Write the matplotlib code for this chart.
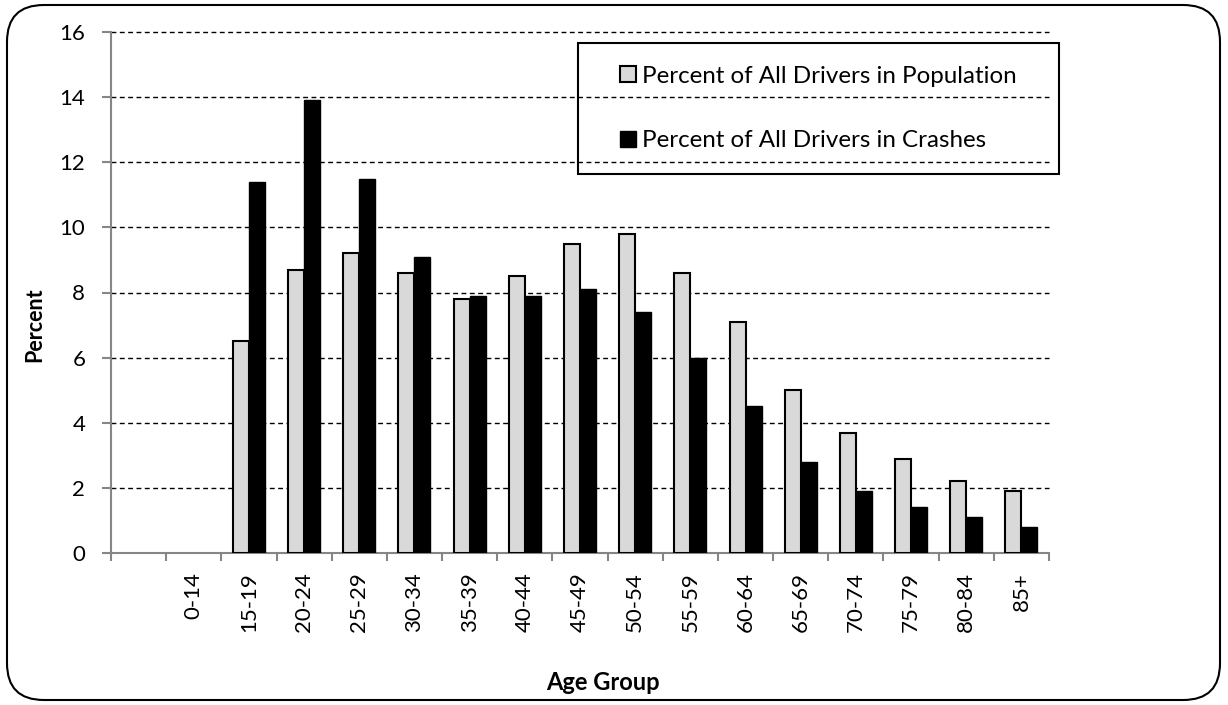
import numpy as np
import matplotlib
matplotlib.use("Agg")
import matplotlib.pyplot as plt
from matplotlib.patches import FancyBboxPatch, Rectangle

age_groups = ["", "0-14", "15-19", "20-24", "25-29", "30-34", "35-39", "40-44",
              "45-49", "50-54", "55-59", "60-64", "65-69", "70-74", "75-79",
              "80-84", "85+"]
pct_population = [np.nan, np.nan, 6.5, 8.7, 9.2, 8.6, 7.8, 8.5, 9.5, 9.8,
                  8.6, 7.1, 5.0, 3.7, 2.9, 2.2, 1.9]
pct_crashes = [np.nan, np.nan, 11.4, 13.9, 11.5, 9.1, 7.9, 7.9, 8.1, 7.4,
               6.0, 4.5, 2.8, 1.9, 1.4, 1.1, 0.8]
y_ticks = [0, 2, 4, 6, 8, 10, 12, 14, 16]

plt.rcParams['font.family'] = ['Lato', 'DejaVu Sans']
axis_gray = '#868686'

fig = plt.figure(figsize=(12.28, 7.05), dpi=100)

# rounded outer border like the Excel chart area
border = FancyBboxPatch((7 / 1228, 5 / 705), 1213 / 1228, 695 / 705,
                        boxstyle="round,pad=0,rounding_size=0.03",
                        transform=fig.transFigure, facecolor='none',
                        edgecolor='black', linewidth=1.5, mutation_aspect=1228 / 705,
                        zorder=-1)
fig.patches.append(border)

ax = fig.add_axes([111 / 1228, 1 - 553 / 705, 938 / 1228, 521 / 705])
ax.set_facecolor('none')

x = np.arange(len(age_groups))
w = 0.29
ax.bar(x - w / 2, pct_population, width=w, color='#D9D9D9', edgecolor='black',
       linewidth=1.5, label='Percent of All Drivers in Population', zorder=3)
ax.bar(x + w / 2, pct_crashes, width=w, color='black', edgecolor='black',
       linewidth=1.0, label='Percent of All Drivers in Crashes', zorder=3)

ax.set_xlim(-0.5, len(age_groups) - 0.5)
ax.set_ylim(0, 16)
ax.set_yticks(y_ticks)
ax.set_yticklabels([str(t) for t in y_ticks], fontsize=16)

ax.set_xticks(x)
ax.set_xticklabels(age_groups, rotation=90, fontsize=16)
ax.set_xticks(np.arange(-0.5, len(age_groups)), minor=True)
ax.tick_params(axis='x', which='major', length=0, pad=14)
ax.tick_params(axis='x', which='minor', length=6, width=1.5, color=axis_gray)
ax.tick_params(axis='y', length=6.5, width=1.5, color=axis_gray, pad=12)

for side in ['top', 'right']:
    ax.spines[side].set_visible(False)
for side in ['left', 'bottom']:
    ax.spines[side].set_color(axis_gray)
    ax.spines[side].set_linewidth(1.5)

for t in y_ticks[1:]:
    ax.axhline(t, color='black', linewidth=1.0, linestyle=(0, (3.5, 2.5)),
               zorder=1, clip_on=False)

ax.set_ylabel('Percent', fontsize=15.5, fontweight='bold', va='center', ha='center')
ax.yaxis.set_label_coords(-0.081, 0.438)
ax.set_xlabel('Age Group', fontsize=17, fontweight='bold', va='center', ha='center')
ax.xaxis.set_label_coords(0.5245, -0.248)

# legend box (transparent, gridlines show through)
ax.add_patch(Rectangle((578 / 1228, 1 - 174 / 705), 481 / 1228, 131 / 705,
                       transform=fig.transFigure, facecolor='none',
                       edgecolor='black', linewidth=1.5, zorder=5, clip_on=False))
leg = ax.legend(loc='center', bbox_to_anchor=(818.5 / 1228, 1 - 108.5 / 705),
                bbox_transform=fig.transFigure, frameon=False, fontsize=17.4,
                handlelength=0.66, handleheight=0.62, handletextpad=0.25,
                labelspacing=1.8)
leg.set_zorder(6)

fig.savefig('out.png', dpi=100)
